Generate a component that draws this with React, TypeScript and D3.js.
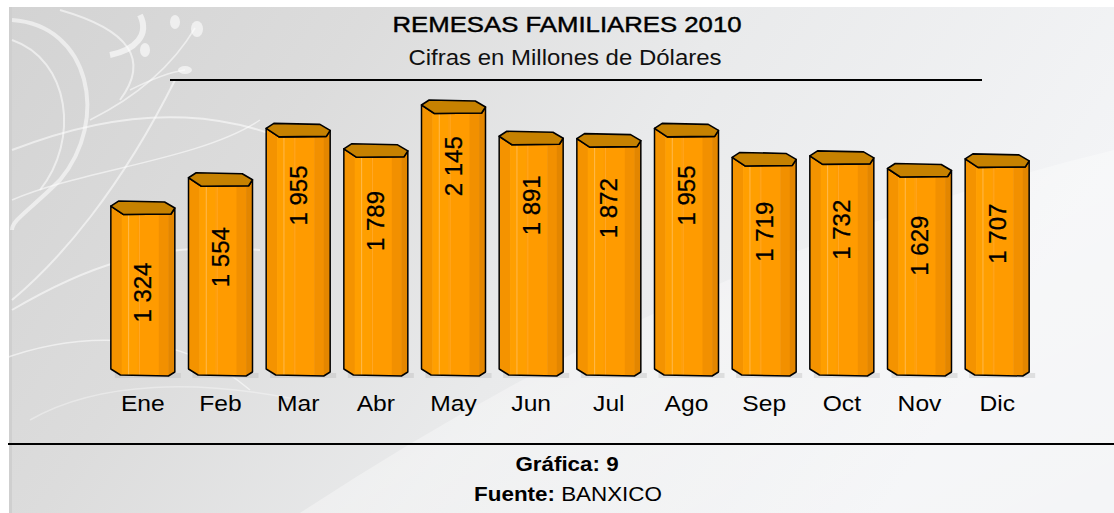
import React from "react";
import * as d3 from "d3";

const months = ["Ene", "Feb", "Mar", "Abr", "May", "Jun", "Jul", "Ago", "Sep", "Oct", "Nov", "Dic"];
const values = [1324, 1554, 1955, 1789, 2145, 1891, 1872, 1955, 1719, 1732, 1629, 1707];
const title = "REMESAS FAMILIARES 2010";
const subtitle = "Cifras en Millones de Dólares";
const sourceLabel = "Fuente:";
const sourceName = "BANXICO";
const chartLabel = "Gráfica: 9";

const W = 1114;
const H = 513;
const FONT = "'Liberation Sans', Arial, sans-serif";
const SX = 1.12;

export default function App() {
  const x = d3.scaleBand<string>().domain(months).range([104, 1036]).paddingInner(0.176).paddingOuter(0.088);
  const y = d3.scaleLinear().domain([0, 2145]).range([369, 105]);
  const yb = y(0);
  const w = x.bandwidth();
  const fmt = (v: number) => d3.format(",")(v).replace(/,/g, " ");

  const topFace = (x0: number, t: number) => {
    const x1 = x0 + w;
    return `M${x0},${t} L${x0 + 0.12 * w},${t - 5} L${x1 - 0.16 * w},${t - 4} L${x1},${t + 2} L${x1 - 0.06 * w},${t + 8} L${x0 + 0.2 * w},${t + 8.5} Z`;
  };
  const bodyPath = (x0: number, t: number) => {
    const x1 = x0 + w;
    return `M${x0},${t} L${x0},${yb} L${x0 + 0.15 * w},${yb + 6} L${x1 - 0.1 * w},${yb + 7} L${x1},${yb + 3} L${x1},${t + 2} L${x1 - 0.06 * w},${t + 8} L${x0 + 0.2 * w},${t + 8.5} Z`;
  };

  const stripes = [
    { a: 0, b: 0.17, c: "#f49300" },
    { a: 0.17, b: 0.42, c: "#ff9f00" },
    { a: 0.42, b: 0.75, c: "#ff9b00" },
    { a: 0.75, b: 0.9, c: "#f29000" },
    { a: 0.9, b: 1.0, c: "#e38600" },
  ];

  return (
    <svg width={W} height={H} style={{ position: "absolute", left: 0, top: 0, display: "block" }} fontFamily={FONT}>
      <defs>
        <linearGradient id="bg" x1="0" y1="0" x2="1" y2="0.3">
          <stop offset="0" stopColor="#d3d3d3" />
          <stop offset="0.3" stopColor="#dcdcdc" />
          <stop offset="0.6" stopColor="#e9eaeb" />
          <stop offset="1" stopColor="#f3f4f6" />
        </linearGradient>
        <linearGradient id="band" x1="0" y1="0" x2="1" y2="1">
          <stop offset="0" stopColor="#ffffff" stopOpacity="0" />
          <stop offset="0.5" stopColor="#ffffff" stopOpacity="0.35" />
          <stop offset="1" stopColor="#ffffff" stopOpacity="0.1" />
        </linearGradient>
        {months.map((m) => (
          <clipPath id={`clip-${m}`} key={m}>
            <path d={bodyPath(x(m)!, y(values[months.indexOf(m)]))} />
          </clipPath>
        ))}
      </defs>
      <rect x={0} y={0} width={W} height={H} fill="#ffffff" />
      <rect x={9} y={7} width={W - 9} height={H - 7} fill="url(#bg)" />
      <rect x={9} y={7} width={3} height={H - 7} fill="#cfcfcf" />
      <path d="M300,513 Q700,250 1114,150 L1114,513 Z" fill="url(#band)" />
      <g fill="none" stroke="#ffffff" strokeOpacity={0.55}>
        <path d="M12,20 C90,25 110,120 60,180 C30,210 12,220 12,230" strokeWidth={4} />
        <path d="M12,40 C70,60 80,140 40,190" strokeWidth={2} />
        <path d="M60,10 C130,30 150,60 120,100" strokeWidth={2} />
        <path d="M140,15 C150,35 135,50 110,55" strokeWidth={6} strokeOpacity={0.6} />
        <path d="M12,300 C60,260 120,190 175,80" strokeWidth={2} />
        <path d="M90,120 C130,100 170,70 195,28" strokeWidth={1.5} />
        <path d="M130,90 C150,80 170,72 185,70" strokeWidth={1.5} />
        <path d="M12,150 C140,100 240,110 330,160" strokeWidth={2} />
        <path d="M12,200 C80,170 200,160 260,120" strokeWidth={1.5} />
        <path d="M12,310 C80,270 150,240 260,250" strokeWidth={2} />
        <path d="M0,360 C80,330 180,330 250,390" strokeWidth={1.5} />
        <path d="M30,420 C100,380 200,380 300,400" strokeWidth={1.5} strokeOpacity={0.35} />
      </g>
      <g fill="#ffffff" fillOpacity={0.6}>
        <ellipse cx={175} cy={22} rx={5} ry={7} />
        <ellipse cx={197} cy={29} rx={6} ry={8} />
        <ellipse cx={145} cy={50} rx={5} ry={7} />
        <ellipse cx={185} cy={70} rx={7} ry={4} />
      </g>

      <g transform={`translate(567,32) scale(${SX},1)`}>
        <text textAnchor="middle" fontSize={23} fill="#000" stroke="#000" strokeWidth={0.45}>{title}</text>
      </g>
      <g transform={`translate(565,65) scale(1.09,1)`}>
        <text textAnchor="middle" fontSize={22} fill="#111">{subtitle}</text>
      </g>
      <line x1={170} x2={982} y1={80} y2={80} stroke="#000" strokeWidth={2} />

      {months.map((m, i) => {
        const x0 = x(m)!;
        const t = y(values[i]);
        return (
          <g key={m}>
            <rect x={x0 + 4} y={yb + 4} width={w + 2} height={5} fill="#b5b5b5" fillOpacity={0.35} />
            <g clipPath={`url(#clip-${m})`}>
              {stripes.map((s, j) => (
                <rect key={j} x={x0 + s.a * w} y={t - 6} width={(s.b - s.a) * w + 0.5} height={yb - t + 16} fill={s.c} />
              ))}
              <rect x={x0 + 0.27 * w} y={t} width={1} height={yb - t + 10} fill="#ffc060" fillOpacity={0.8} />
              <rect x={x0 + 0.44 * w} y={t} width={1} height={yb - t + 10} fill="#ffb040" fillOpacity={0.6} />
            </g>
            <path d={bodyPath(x0, t)} fill="none" stroke="#000" strokeWidth={1.5} strokeLinejoin="round" />
            <path d={topFace(x0, t)} fill="#c68100" stroke="#000" strokeWidth={1.6} strokeLinejoin="round" />
            <text
              transform={`translate(${x0 + w / 2},${1.25 * t + 35}) rotate(-90)`}
              textAnchor="middle"
              dominantBaseline="central"
              fontSize={24}
              fill="#000"
              stroke="#000"
              strokeWidth={0.3}
            >
              {fmt(values[i])}
            </text>
            <g transform={`translate(${x0 + w / 2},411) scale(${SX},1)`}>
              <text textAnchor="middle" fontSize={22} fill="#000">{m}</text>
            </g>
          </g>
        );
      })}

      <line x1={8} x2={W} y1={444} y2={444} stroke="#000" strokeWidth={2} />
      <g transform={`translate(567,471) scale(${SX},1)`}>
        <text textAnchor="middle" fontSize={20} fontWeight="bold" fill="#000">{chartLabel}</text>
      </g>
      <g transform={`translate(568,501) scale(${SX},1)`}>
        <text textAnchor="middle" fontSize={20} fill="#000">
          <tspan fontWeight="bold">{sourceLabel}</tspan>
          <tspan> {sourceName}</tspan>
        </text>
      </g>
    </svg>
  );
}
